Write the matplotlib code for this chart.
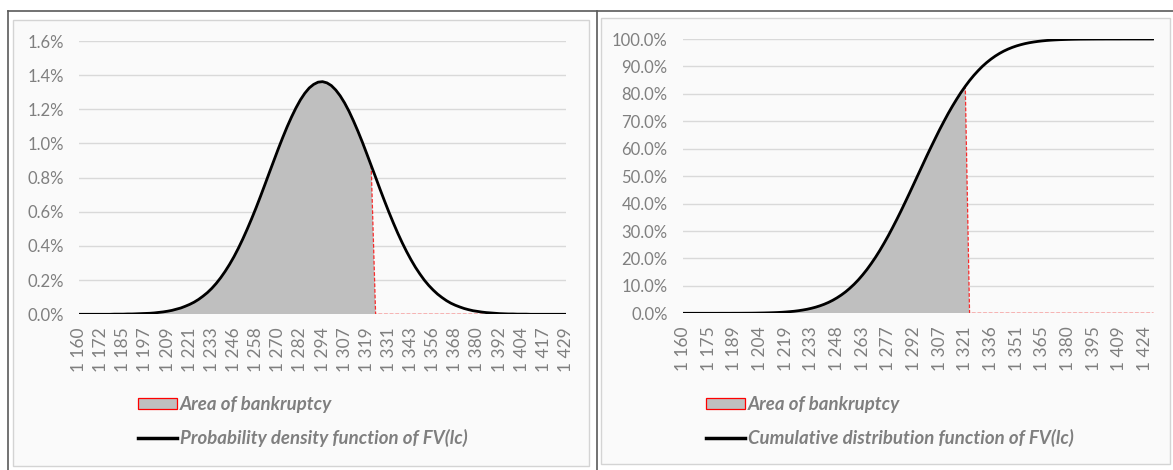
import matplotlib
matplotlib.use("Agg")
import matplotlib.pyplot as plt
import numpy as np
from matplotlib.patches import Rectangle, Patch
from matplotlib.lines import Line2D
from matplotlib.font_manager import FontProperties

plt.rcParams['font.family'] = ['Lato', 'DejaVu Sans']

# FV(lc) categories: 111 points, only some are labelled
pdf_labels = ["1 160", "1 172", "1 185", "1 197", "1 209", "1 221", "1 233", "1 246",
              "1 258", "1 270", "1 282", "1 294", "1 307", "1 319", "1 331", "1 343",
              "1 356", "1 368", "1 380", "1 392", "1 404", "1 417", "1 429"]
cdf_labels = ["1 160", "1 175", "1 189", "1 204", "1 219", "1 233", "1 248", "1 263",
              "1 277", "1 292", "1 307", "1 321", "1 336", "1 351", "1 365", "1 380",
              "1 395", "1 409", "1 424"]

# probability density, in %
pdf_pct = [0.000, 0.000, 0.000, 0.000, 0.000, 0.000, 0.000, 0.000, 0.001, 0.001,
           0.001, 0.002, 0.002, 0.003, 0.004, 0.005, 0.006, 0.008, 0.011, 0.014,
           0.018, 0.023, 0.030, 0.037, 0.047, 0.058, 0.071, 0.087, 0.106, 0.127,
           0.152, 0.181, 0.214, 0.251, 0.292, 0.337, 0.387, 0.441, 0.499, 0.560,
           0.624, 0.691, 0.760, 0.830, 0.899, 0.968, 1.034, 1.097, 1.155, 1.208,
           1.255, 1.294, 1.325, 1.346, 1.359, 1.362, 1.355, 1.339, 1.313, 1.279,
           1.237, 1.188, 1.132, 1.072, 1.008, 0.940, 0.871, 0.802, 0.732, 0.664,
           0.598, 0.535, 0.475, 0.419, 0.367, 0.319, 0.275, 0.236, 0.200, 0.169,
           0.142, 0.118, 0.098, 0.080, 0.065, 0.053, 0.043, 0.034, 0.027, 0.021,
           0.017, 0.013, 0.010, 0.008, 0.006, 0.004, 0.003, 0.002, 0.002, 0.001,
           0.001, 0.001, 0.000, 0.000, 0.000, 0.000, 0.000, 0.000, 0.000, 0.000, 0.000]

# cumulative distribution, in %
cdf_pct = [0.00, 0.00, 0.00, 0.00, 0.00, 0.00, 0.00, 0.00, 0.00, 0.01,
           0.01, 0.01, 0.02, 0.02, 0.03, 0.04, 0.05, 0.07, 0.10, 0.13,
           0.17, 0.22, 0.28, 0.36, 0.47, 0.60, 0.75, 0.95, 1.19, 1.47,
           1.82, 2.23, 2.72, 3.29, 3.96, 4.74, 5.64, 6.66, 7.81, 9.13,
           10.58, 12.20, 14.01, 15.96, 18.12, 20.41, 22.88, 25.53, 28.30, 31.24,
           34.27, 37.41, 40.67, 43.96, 47.31, 50.67, 54.02, 57.38, 60.64, 63.83,
           66.97, 69.95, 72.84, 75.55, 78.11, 80.54, 82.77, 84.85, 86.74, 88.45,
           90.03, 91.42, 92.66, 93.77, 94.74, 95.59, 96.32, 96.95, 97.49, 97.94,
           98.33, 98.65, 98.91, 99.13, 99.31, 99.46, 99.58, 99.67, 99.75, 99.80,
           99.85, 99.89, 99.92, 99.94, 99.95, 99.96, 99.97, 99.98, 99.98, 99.99,
           99.99, 99.99, 99.99, 100.0, 100.0, 100.0, 100.0, 100.0, 100.0, 100.0, 100.0]

bankrupt_last = 66  # last category inside the bankruptcy area

W, H = 1173, 470
GRAY_TXT = '#7f7f7f'
GRID = '#d9d9d9'

fig = plt.figure(figsize=(W / 100, H / 100), dpi=100)
fig.patch.set_facecolor('white')

# chart-area frames and the outer dark border
fig.add_artist(Rectangle((13 / W, 1 - 466 / H), 576 / W, 446.5 / H, transform=fig.transFigure,
                         facecolor='#fafafa', edgecolor='#d4d4d4', lw=1, zorder=-5))
fig.add_artist(Rectangle((600.5 / W, 1 - 464 / H), 569 / W, 446.5 / H, transform=fig.transFigure,
                         facecolor='#fafafa', edgecolor='#d4d4d4', lw=1, zorder=-5))
for xs, ys in [((8 / W, 1.0), (1 - 10.7 / H, 1 - 10.7 / H)),
               ((8 / W, 8 / W), (0, 1 - 10.7 / H)),
               ((597 / W, 597 / W), (0, 1 - 10.7 / H))]:
    fig.add_artist(Line2D(xs, ys, transform=fig.transFigure, color='#5a5a5a', lw=1.2, zorder=-4))


def draw(rect, values, ymax, ystep, fmt, labels, lab_step, legend_xy, line_label):
    idx = np.arange(len(values))
    vals = np.array(values)
    bank = np.where(idx <= bankrupt_last, vals, 0.0)

    ax = fig.add_axes(rect)
    ax.set_facecolor('none')
    ax.fill_between(idx, 0, bank, facecolor='#bfbfbf', edgecolor='none', zorder=2)
    ax.plot(idx, bank, color='#ff0000', lw=0.9, ls=(0, (3, 1.5)), alpha=0.8, zorder=3)
    ax.plot(idx, vals, color='black', lw=2.0, solid_capstyle='round', zorder=4)

    ax.set_xlim(0, len(values) - 1)
    ax.set_ylim(0, ymax)
    yt = np.arange(0, ymax + ystep / 2, ystep)
    ax.set_yticks(yt)
    ax.set_yticklabels([fmt.format(v) for v in yt])
    ax.set_xticks(idx[::lab_step])
    ax.set_xticklabels(labels, rotation=90)
    ax.grid(axis='y', color=GRID, lw=1.0, zorder=0)
    ax.set_axisbelow(True)
    for s in ax.spines.values():
        s.set_visible(False)
    ax.tick_params(axis='y', length=0, pad=11, labelsize=12, labelcolor=GRAY_TXT)
    ax.tick_params(axis='x', length=0, pad=9.5, labelsize=12.5, labelcolor=GRAY_TXT)

    handles = [Patch(facecolor='#bfbfbf', edgecolor='#ff0000', lw=0.9),
               Line2D([], [], color='black', lw=2.5)]
    ax.legend(handles, ['Area of bankruptcy', line_label], loc='upper left',
              bbox_to_anchor=(legend_xy[0] / W, 1 - legend_xy[1] / H),
              bbox_transform=fig.transFigure, frameon=False, borderpad=0,
              borderaxespad=0, handlelength=2.1, handleheight=0.6, handletextpad=0.15,
              labelspacing=0.87, labelcolor=GRAY_TXT,
              prop=FontProperties(family=['Lato', 'DejaVu Sans'], weight='bold',
                                  style='italic', size=13.4))
    return ax


draw([79 / W, 1 - 314.3 / H, 487 / W, 273.3 / H], pdf_pct, 1.6, 0.2, '{:.1f}%',
     pdf_labels, 5, (138, 396), 'Probability density function of FV(lc)')
draw([683 / W, 1 - 313.3 / H, 470.5 / W, 274.3 / H], cdf_pct, 100, 10, '{:.1f}%',
     cdf_labels, 6, (706, 396), 'Cumulative distribution function of FV(lc)')

fig.savefig('out.png', dpi=100, facecolor='white')
